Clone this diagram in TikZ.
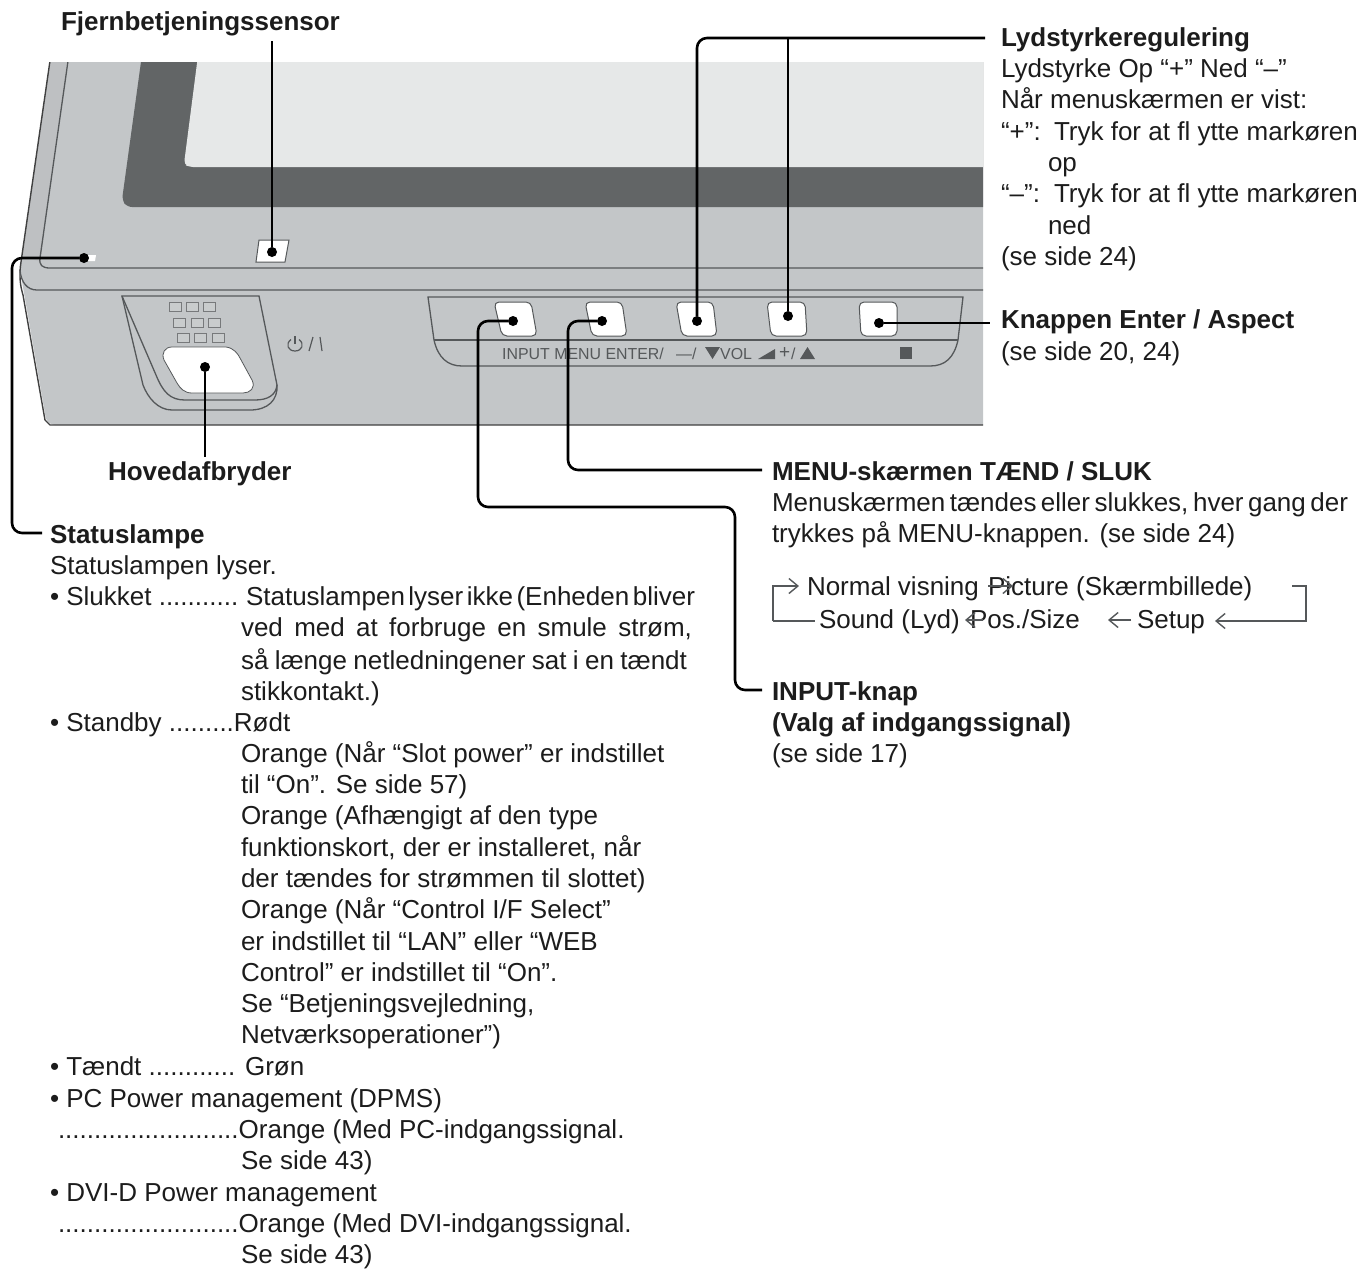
\documentclass[tikz,border=0pt]{standalone}
\usepackage{fontspec}
\setmainfont{Liberation Sans}
\usetikzlibrary{arrows.meta}
\definecolor{ink}{HTML}{1C1C1C}
\definecolor{body}{HTML}{C3C6C8}
\definecolor{strip}{HTML}{BEC0C2}
\definecolor{frame}{HTML}{626566}
\definecolor{screen}{HTML}{E6E8E8}
\definecolor{edge}{HTML}{55585A}
\tikzset{
  txt/.style={anchor=base west,inner sep=0pt,outer sep=0pt,text=ink,font=\fontsize{26}{30}\selectfont},
  head/.style={txt,font=\fontsize{26}{30}\selectfont\bfseries},
  lab/.style={anchor=base west,inner sep=0pt,text=edge,font=\fontsize{15.9}{17}\selectfont},
  pt/.style={circle,fill=black,inner sep=0pt,minimum size=10pt,outer sep=0pt},
  conn/.style={draw=black,line width=2.6pt,rounded corners=10pt},
  loop/.style={draw=edge,line width=1.5pt},
  loopa/.style={loop,-{Straight Barb[length=9pt,width=15pt,line width=1.4pt]}},
  rim/.style={draw=edge,line width=1.3pt},
  key/.style={draw=edge,line width=1pt,fill=white,rounded corners=5pt},
  cell/.style={draw=edge!80,line width=.8pt,fill=body!90!white}
}
\newcommand{\fitto}[2]{\hbox to #1pt{\spaceskip=.2em plus 1fil minus 1fil #2}}
\begin{document}
\begin{tikzpicture}[x=1pt,y=-1pt]
\useasboundingbox (0,0) rectangle (1365,1270);
% device
\begin{scope}
\clip (0,62) rectangle (983,426);
\fill[body,rounded corners=8pt] (53,40) -- (20,270) -- (47,425) -- (1000,425) -- (1000,40) -- cycle;
\fill[strip] (53,40) -- (22,255) -- (40,262) -- (71,40) -- cycle;
\draw[line width=1.4pt,draw=black!75] (53,40) -- (21,262) .. controls (19,275) and (20,285) .. (23,295) -- (45,420) -- (50,425) -- (1000,425);
\fill[frame,rounded corners=5pt] (144,40) -- (122,200) -- (127,207) -- (1000,207) -- (1000,40) -- cycle;
\fill[screen,rounded corners=4pt] (200,40) -- (184,164) -- (189,167) -- (1000,167) -- (1000,40) -- cycle;
\draw[rim] (71,40) -- (40,258) .. controls (39,265) and (42,268) .. (50,268) -- (1000,268);
\draw[rim] (20,270) .. controls (21,282) and (27,290) .. (37,290) -- (1000,290);
\end{scope}
% sensor, lamp
\draw[draw=edge,fill=white,line width=1pt] (259,240) -- (289,240) -- (285,262) -- (256,262) -- cycle;
\fill[white] (87,255) -- (96,255) -- (95,261) -- (87,261) -- cycle;
% power panel
\draw[rim] (122,296) -- (259,296) -- (277,385) .. controls (278,400) and (268,410) .. (250,410) -- (172,410) .. controls (158,410) and (148,398) .. (143,385) -- cycle;
\draw[rim] (122,296) -- (156,375) .. controls (163,392) and (170,400) .. (185,400) -- (255,400) .. controls (268,400) and (276,395) .. (277,385);
\draw[fill=white,draw=edge,line width=.8pt] (172,347) -- (226,347) .. controls (234,348) and (238,354) .. (240,358) -- (252,380) .. controls (256,388) and (250,393) .. (243,393) -- (192,393) .. controls (184,393) and (180,388) .. (177,383) -- (164,360) .. controls (161,353) and (165,347) .. (172,347) -- cycle;
\foreach \x/\y in {169/307,186/307,203/307,173/323,191/323,208/323,177/338,194/338,212/338}
  \draw[cell] (\x,\y-4.5) rectangle ++(12,9);
\draw[edge,line width=1.2pt] (291,339.5) .. controls (285,344) and (288,351) .. (295,351) .. controls (302,351) and (305,344) .. (299,339.5);
\draw[edge,line width=1.2pt] (295,336) -- (295,344);
\draw[edge,line width=1.2pt] (309,351) -- (313,337) (320,337) -- (322,351);
% button panel
\draw[rim] (428,297) -- (963,297) -- (958,340) .. controls (954,358) and (945,366) .. (930,366) -- (462,366) .. controls (448,366) and (438,358) .. (434,340) -- cycle;
\draw[rim] (434,340) -- (958,340);
\draw[key] (494,302) -- (531,302) -- (537,336) -- (502,336) -- cycle;
\draw[key] (585,302) -- (622,302) -- (627,336) -- (592,336) -- cycle;
\draw[key] (676,302) -- (713,302) -- (717,336) -- (682,336) -- cycle;
\draw[key] (767,302) -- (805,302) -- (807,336) -- (771,336) -- cycle;
\draw[key] (859,302) -- (897,302) -- (897,336) -- (861,336) -- cycle;
% panel labels
\node[lab] (lbla) at (502,359) {INPUT MENU ENTER/};
\node[lab] (lblb) at (676,359) {---/};
\fill[edge] (705,347) -- (720,347) -- (712.5,359) -- cycle;
\node[lab] (lblc) at (720,359) {VOL};
\fill[edge] (758,359) -- (775,349) -- (775,359) -- cycle;
\node[lab,font=\fontsize{19}{20}\selectfont] (lbld) at (779,358) {+};
\node[lab] (lble) at (791,359) {/};
\fill[edge] (800,359) -- (815,359) -- (807.5,347) -- cycle;
\fill[edge] (900,347) rectangle (912,359);
% dots
\node[pt] (dsensor) at (272,252) {};
\node[pt] (dlamp) at (84,258) {};
\node[pt] (dmain) at (205,367) {};
\node[pt] (dinput) at (513,321) {};
\node[pt] (dmenu) at (602,321) {};
\node[pt] (dminus) at (697,321) {};
\node[pt] (dplus) at (788,316) {};
\node[pt] (denter) at (879,323) {};
% labels
\node[head] (sensor) at (61,30) {Fjernbetjeningssensor};
\node[head] (main) at (108,480) {Hovedafbryder};
\node[head] (vol) at (1001,46) {Lydstyrkeregulering};
\node[txt] (v1) at (1001,77) {Lydstyrke Op “+” Ned “–”};
\node[txt] (v2) at (1001,108) {Når menuskærmen er vist:};
\node[txt] (v3) at (1001,140) {“+”:};
\node[txt] (v3b) at (1054,140) {Tryk for at fl ytte markøren};
\node[txt] (v4) at (1048,171) {op};
\node[txt] (v5) at (1001,202) {“–”:};
\node[txt] (v5b) at (1054,202) {Tryk for at fl ytte markøren};
\node[txt] (v6) at (1048,234) {ned};
\node[txt] (v7) at (1001,265) {(se side 24)};
\node[head] (enter) at (1001,328) {Knappen Enter / Aspect};
\node[txt] (e1) at (1001,360) {(se side 20, 24)};
\node[head] (menu) at (772,480) {MENU-skærmen TÆND / SLUK};
\node[txt] (m1) at (772,511) {\fitto{576}{Menuskærmen tændes eller slukkes, hver gang der}};
\node[txt] (m2) at (772,542) {trykkes på MENU-knappen. (se side 24)};
\node[txt] (c1) at (807,595) {Normal visning};
\node[txt] (c2) at (988,595) {Picture (Skærmbillede)};
\node[txt] (c3) at (819,628) {Sound (Lyd)};
\node[txt] (c4) at (970,628) {Pos./Size};
\node[txt] (c5) at (1137,628) {Setup};
\node[head] (input) at (772,700) {INPUT-knap};
\node[head] (i1) at (772,731) {(Valg af indgangssignal)};
\node[txt] (i2) at (772,762) {(se side 17)};
\node[head] (status) at (50,543) {Statuslampe};
\node[txt] (s1) at (50,574) {Statuslampen lyser.};
\node[txt] (s2) at (50,605) {• Slukket ...........};
\node[txt] (s2b) at (246,605) {\fitto{449}{Statuslampen lyser ikke (Enheden bliver}};
\node[txt] (s3) at (241,636) {\fitto{451}{ved med at forbruge en smule strøm,}};
\node[txt] (s4) at (241,669) {\fitto{446}{så længe netledningener sat i en tændt}};
\node[txt] (s5) at (241,700) {stikkontakt.)};
\node[txt] (s6) at (50,731) {• Standby .........Rødt};
\node[txt] (s7) at (241,762) {Orange (Når “Slot power” er indstillet};
\node[txt] (s8) at (241,793) {til “On”. Se side 57)};
\node[txt] (s9) at (241,824) {Orange (Afhængigt af den type};
\node[txt] (s10) at (241,856) {funktionskort, der er installeret, når};
\node[txt] (s11) at (241,887) {der tændes for strømmen til slottet)};
\node[txt] (s12) at (241,918) {Orange (Når “Control I/F Select”};
\node[txt] (s13) at (241,950) {er indstillet til “LAN” eller “WEB};
\node[txt] (s14) at (241,981) {Control” er indstillet til “On”.};
\node[txt] (s15) at (241,1012) {Se “Betjeningsvejledning,};
\node[txt] (s16) at (241,1043) {Netværksoperationer”)};
\node[txt] (s17) at (50,1075) {• Tændt ............ Grøn};
\node[txt] (s18) at (50,1107) {• PC Power management (DPMS)};
\node[txt] (s19) at (58,1138) {.........................Orange (Med PC-indgangssignal.};
\node[txt] (s20) at (241,1169) {Se side 43)};
\node[txt] (s21) at (50,1201) {• DVI-D Power management};
\node[txt] (s22) at (58,1232) {.........................Orange (Med DVI-indgangssignal.};
\node[txt] (s23) at (241,1263) {Se side 43)};
% connector waypoints
\coordinate (xlamp) at (12,0);
\coordinate (ylamp) at (0,533);
\coordinate (endlamp) at (42,533);
\coordinate (topvol) at (985,38);
\coordinate (xvol) at (697,38);
\coordinate (endenter) at (990,323);
\coordinate (endmain) at (205,457);
\coordinate (endsensor) at (272,41);
\coordinate (xmenu) at (568,0);
\coordinate (endmenu) at (762,470);
\coordinate (xinput) at (478,0);
\coordinate (yinput) at (0,507);
\coordinate (xinput2) at (735,0);
\coordinate (endinput) at (762,690);
% connectors
\draw[conn] (dsensor) -- (endsensor);
\draw[conn] (dmain) -- (endmain);
\draw[conn] (dlamp) -- (dlamp -| xlamp) -- (xlamp |- ylamp) -- (endlamp);
\draw[conn] (dminus) -- (xvol) -- (topvol);
\draw[conn] (dplus) -- (dplus |- topvol);
\draw[conn] (denter) -- (endenter);
\draw[conn] (dmenu) -- (dmenu -| xmenu) -- (xmenu |- endmenu) -- (endmenu);
\draw[conn] (dinput) -- (dinput -| xinput) -- (xinput |- yinput) -- (xinput2 |- yinput) -- (xinput2 |- endinput) -- (endinput);
% menu cycle
\coordinate (a0) at (773,621);
\coordinate (a1) at (773,586);
\coordinate (a2) at (799,586);
\coordinate (a3) at (1292,586);
\coordinate (a4) at (1306,586);
\coordinate (a5) at (1306,621);
\coordinate (a6) at (1215,621);
\coordinate (a7) at (815,621);
\draw[loopa] (a0) -- (a1) -- (a2);
\draw[loop] (a0) -- (a7);
\draw[loopa] (a3) -- (a4) -- (a5) -- (a6);
\coordinate (b1) at (988,586);
\coordinate (b2) at (1013,586);
\coordinate (b3) at (983,620);
\coordinate (b4) at (965,620);
\coordinate (b5) at (1131,620);
\coordinate (b6) at (1108,620);
\draw[loopa] (b1) -- (b2);
\draw[loopa] (b3) -- (b4);
\draw[loopa] (b5) -- (b6);
\end{tikzpicture}
\end{document}
